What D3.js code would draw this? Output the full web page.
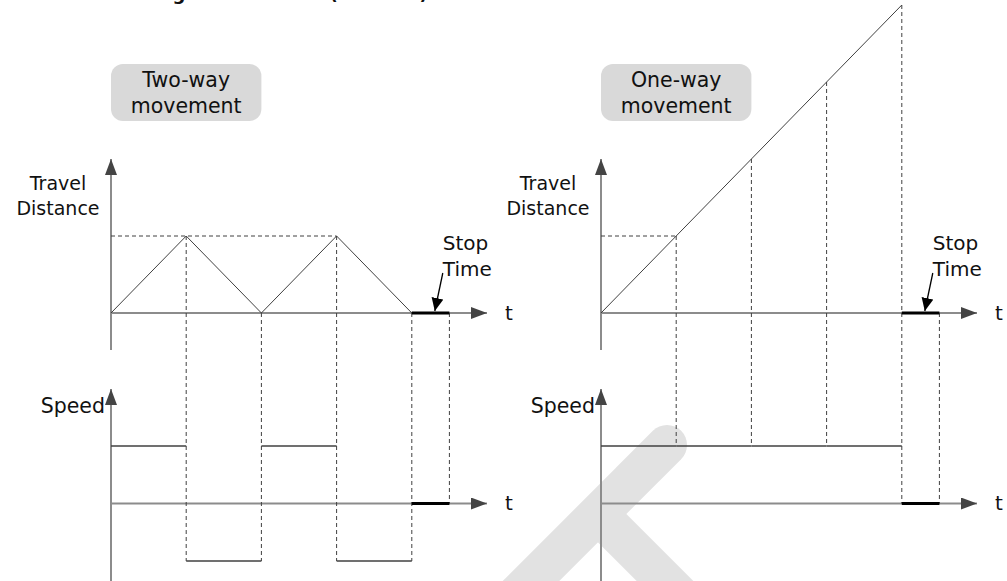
<!DOCTYPE html>
<html><head><meta charset="utf-8">
<script src="https://cdn.jsdelivr.net/npm/d3@7"></script>
<style>body{margin:0;background:#fff}svg{display:block}text{font-family:"DejaVu Sans",Verdana,sans-serif;fill:#111}</style>
</head><body>
<script>
// ---- data ----
const panelTitles = [["Two-way","movement"],["One-way","movement"]];
const timePoints = [0,1,2,3,4];
const twoWayDistance = [0,1,0,1,0];
const oneWayDistance = [0,1,2,3,4];
const twoWaySpeed = [1,-1,1,-1];   // speed level in each interval
const oneWaySpeed = [1,1,1,1];
const stopTime = [4,4.5];
const boxSpan = [0,2];
const axisEnd = 5;
const distLabel = ["Travel","Distance"];
const speedLabel = "Speed";
const stopLabel = ["Stop","Time"];
const timeLabel = "t";
const titleText = "Figure 7-1 Curve (Reverse)";

const W=1007,H=581;
const svg=d3.select("body").append("svg").attr("width",W).attr("height",H);

// watermark
const wm=svg.append("g").attr("stroke","#e2e2e2").attr("stroke-width",40).attr("fill","none");
wm.append("line").attr("x1",667).attr("y1",445).attr("x2",500).attr("y2",612).attr("stroke-linecap","round");
wm.append("line").attr("x1",598).attr("y1",514).attr("x2",698).attr("y2",614);

// cut-off title (only its descenders show, as in the reference)
svg.append("text").attr("x",154).attr("y",0).attr("font-family","Liberation Sans, Arial, sans-serif")
  .attr("font-weight","bold").attr("font-size",18).text(titleText);

const defs=svg.append("defs");
defs.append("marker").attr("id","ah").attr("viewBox","0 0 16 12").attr("refX",16).attr("refY",6)
  .attr("markerWidth",16).attr("markerHeight",12).attr("markerUnits","userSpaceOnUse").attr("orient","auto")
  .append("path").attr("d","M0,0L16,6L0,12Z").attr("fill","#444");
defs.append("marker").attr("id","sh").attr("viewBox","0 0 13 12").attr("refX",13).attr("refY",6)
  .attr("markerWidth",13).attr("markerHeight",12).attr("markerUnits","userSpaceOnUse").attr("orient","auto")
  .append("path").attr("d","M0,0L13,6L0,12Z").attr("fill","#000");

const yDist=d3.scaleLinear().domain([0,1]).range([313,236]);
const ySpeed=d3.scaleLinear().domain([-1,1]).range([561,446]);

const panels=[
  {x0:111,dist:twoWayDistance,speed:twoWaySpeed,title:panelTitles[0]},
  {x0:601,dist:oneWayDistance,speed:oneWaySpeed,title:panelTitles[1]}
];
const DARK="#404040", AX="#8c8c8c";

panels.forEach(p=>{
  const x=d3.scaleLinear().domain([0,axisEnd]).range([p.x0,p.x0+376]);
  const g=svg.append("g");
  // title box
  g.append("rect").attr("x",x(boxSpan[0])).attr("y",64).attr("width",x(boxSpan[1])-x(boxSpan[0])).attr("height",57).attr("rx",12).attr("fill","#d9d9d9");
  p.title.forEach((t,i)=>g.append("text").attr("x",(x(boxSpan[0])+x(boxSpan[1]))/2).attr("y",87+i*26).attr("text-anchor","middle").attr("font-size",20.5).text(t));
  // axis labels
  distLabel.forEach((t,i)=>g.append("text").attr("x",x(0)-53).attr("y",190+i*25).attr("text-anchor","middle").attr("font-size",19).text(t));
  g.append("text").attr("x",x(0)-6).attr("y",413).attr("text-anchor","end").attr("font-size",20.5).text(speedLabel);
  g.append("text").attr("x",x(axisEnd)+18).attr("y",320).attr("font-size",20).text(timeLabel);
  g.append("text").attr("x",x(axisEnd)+18).attr("y",510).attr("font-size",20).text(timeLabel);
  // axes
  g.append("line").attr("x1",x(0)).attr("x2",x(0)).attr("y1",350).attr("y2",159).attr("stroke",AX).attr("stroke-width",2).attr("marker-end","url(#ah)");
  g.append("line").attr("x1",x(0)).attr("x2",x(0)).attr("y1",581).attr("y2",389).attr("stroke",AX).attr("stroke-width",2).attr("marker-end","url(#ah)");
  g.append("line").attr("x1",x(0)).attr("x2",x(axisEnd)).attr("y1",yDist(0)).attr("y2",yDist(0)).attr("stroke",AX).attr("stroke-width",2).attr("marker-end","url(#ah)");
  g.append("line").attr("x1",x(0)).attr("x2",x(axisEnd)).attr("y1",ySpeed(0)).attr("y2",ySpeed(0)).attr("stroke",AX).attr("stroke-width",2).attr("marker-end","url(#ah)");
  // dashed guides
  const dash=g.append("g").attr("stroke",DARK).attr("stroke-width",1).attr("stroke-dasharray","4,3").attr("fill","none");
  const lastPeak=d3.max(timePoints.filter((t,i)=>p.dist[i]===1));
  dash.append("line").attr("x1",x(0)).attr("x2",x(lastPeak)).attr("y1",yDist(1)).attr("y2",yDist(1));
  timePoints.slice(1).forEach((t,k)=>{
    const i=k+1;
    const before=p.speed[i-1], after=i<p.speed.length?p.speed[i]:0;
    dash.append("line").attr("x1",x(t)).attr("x2",x(t)).attr("y1",yDist(p.dist[i])).attr("y2",ySpeed(Math.min(before,after)));
  });
  dash.append("line").attr("x1",x(stopTime[1])).attr("x2",x(stopTime[1])).attr("y1",yDist(0)).attr("y2",ySpeed(0));
  // distance curve
  g.append("path").attr("d",d3.line().x((d,i)=>x(timePoints[i])).y(d=>yDist(d))(p.dist)).attr("fill","none").attr("stroke",DARK).attr("stroke-width",1);
  // speed segments
  p.speed.forEach((s,i)=>g.append("line").attr("x1",x(timePoints[i])).attr("x2",x(timePoints[i+1])).attr("y1",ySpeed(s)).attr("y2",ySpeed(s)).attr("stroke",DARK).attr("stroke-width",1.3));
  // stop time
  [yDist(0),ySpeed(0)].forEach(yy=>g.append("line").attr("x1",x(stopTime[0])).attr("x2",x(stopTime[1])).attr("y1",yy).attr("y2",yy).attr("stroke","#000").attr("stroke-width",3));
  stopLabel.forEach((t,i)=>g.append("text").attr("x",x(stopTime[0])+31).attr("y",250+i*26).attr("font-size",20).text(t));
  g.append("line").attr("x1",x(stopTime[0])+31).attr("y1",273).attr("x2",x(stopTime[0])+23).attr("y2",311).attr("stroke","#000").attr("stroke-width",1.3).attr("marker-end","url(#sh)");
});
</script>
</body></html>
